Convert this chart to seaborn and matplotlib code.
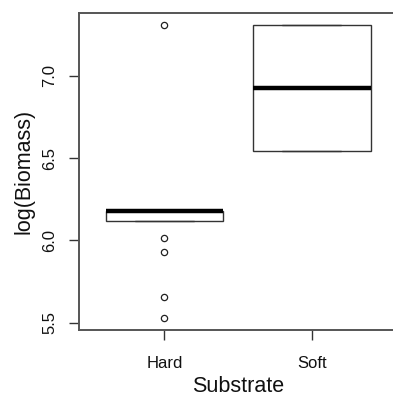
import matplotlib
matplotlib.use("Agg")
import matplotlib.pyplot as plt
import seaborn as sns
import pandas as pd

substrates = ["Hard", "Soft"]
hard_values = [5.526, 5.657, 5.928, 6.016, 6.118,
               6.179, 6.179, 6.179, 6.179, 6.179, 6.179,
               6.179, 6.179, 6.179, 6.179, 6.179, 7.312]
soft_values = [6.546, 6.546, 7.312, 7.312]
y_ticks = [5.5, 6.0, 6.5, 7.0]
y_tick_labels = ["5.5", "6.0", "6.5", "7.0"]

df = pd.DataFrame({
    "Substrate": ["Hard"] * len(hard_values) + ["Soft"] * len(soft_values),
    "logBiomass": hard_values + soft_values,
})

sns.set_style("ticks")
plt.rcParams["font.family"] = ["Liberation Sans", "DejaVu Sans"]

fig = plt.figure(figsize=(3.93, 3.96), dpi=100)
ax = fig.add_axes([0.201, 0.1667, 0.810, 0.8005])

sns.boxplot(
    data=df, x="Substrate", y="logBiomass", order=substrates, ax=ax,
    width=0.8, color="white", linecolor="#333333", linewidth=1.0,
    whis=1.5, fliersize=4.5,
    medianprops=dict(linewidth=3.2, color="black"),
    flierprops=dict(marker="o", markerfacecolor="none",
                    markeredgecolor="#222222", markeredgewidth=0.9),
)

ax.set_xlim(-0.58, 1.58)
ax.set_ylim(5.455, 7.383)
ax.set_yticks(y_ticks)
ax.set_yticklabels(y_tick_labels, rotation=90, va="center")
ax.tick_params(axis="both", direction="out", length=7.5, width=1.0,
               color="#333333", labelsize=12, labelcolor="#111111")
ax.tick_params(axis="y", pad=8)
ax.tick_params(axis="x", pad=11)
for s in ax.spines.values():
    s.set_visible(True)
    s.set_color("#555555")
    s.set_linewidth(1.4)
ax.set_xlabel("Substrate", fontsize=15.5, color="#111111", labelpad=4)
ax.set_ylabel("log(Biomass)", fontsize=15.5, color="#111111", labelpad=6)

fig.savefig("out.png", dpi=100, facecolor="white")
